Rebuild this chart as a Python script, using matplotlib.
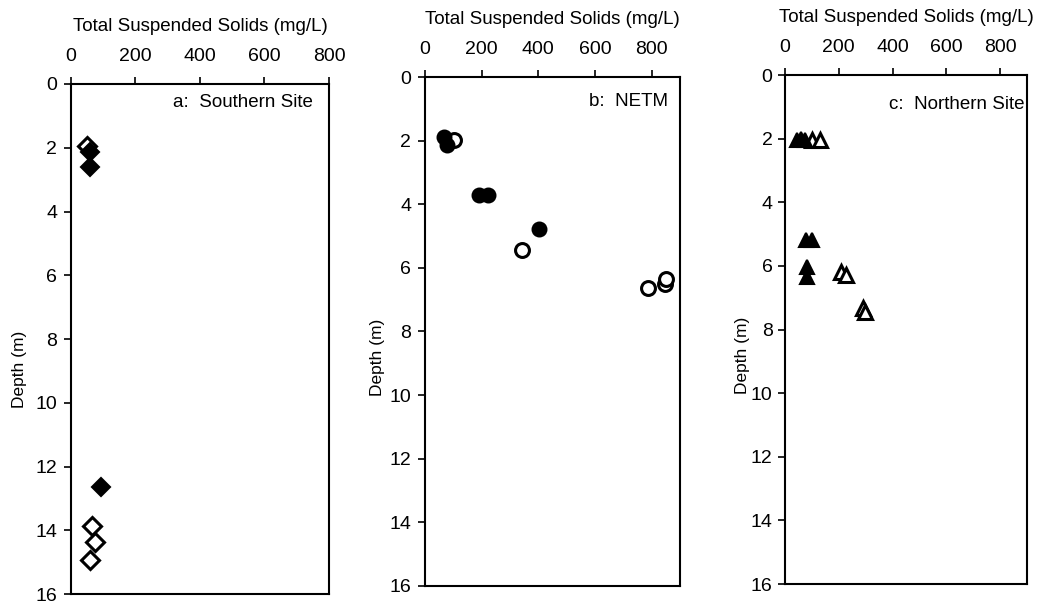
import matplotlib
matplotlib.use("Agg")
import matplotlib.pyplot as plt

plt.rcParams['font.family'] = ['Liberation Sans', 'DejaVu Sans']

# Panel a: Southern Site (diamonds)
a_fill_tss = [59, 59, 92]
a_fill_depth = [2.12, 2.6, 12.65]
a_open_tss = [49, 66, 74, 58]
a_open_depth = [1.95, 13.88, 14.38, 14.92]

# Panel b: NETM (circles)
b_fill_tss = [68, 78, 190, 224, 403]
b_fill_depth = [1.88, 2.15, 3.71, 3.71, 4.78]
b_open_tss = [104, 342, 788, 848, 850]
b_open_depth = [1.98, 5.45, 6.62, 6.52, 6.36]

# Panel c: Northern Site (triangles)
c_fill_tss = [45, 60, 76, 78, 100, 82, 82]
c_fill_depth = [2.04, 2.02, 2.05, 5.2, 5.18, 6.05, 6.35]
c_open_tss = [100, 130, 210, 228, 290, 297]
c_open_depth = [2.05, 2.05, 6.2, 6.3, 7.32, 7.45]

x_ticks = [0, 200, 400, 600, 800]
y_ticks = [0, 2, 4, 6, 8, 10, 12, 14, 16]

fig = plt.figure(figsize=(10.42, 6.03), dpi=100)

panels = [
    dict(rect=[0.0681, 0.0149, 0.2476, 0.8458], xmax=800, marker='D', ms=9.5,
         fill=(a_fill_tss, a_fill_depth), open_=(a_open_tss, a_open_depth),
         label='a:  Southern Site', ylx=-0.17, yly=0.44, tx=0.938, ty=0.963,
         ypad=5),
    dict(rect=[0.4079, 0.0282, 0.2447, 0.8441], xmax=900, marker='o', ms=10,
         fill=(b_fill_tss, b_fill_depth), open_=(b_open_tss, b_open_depth),
         label='b:  NETM', ylx=-0.157, yly=0.45, tx=0.953, ty=0.951,
         ypad=5),
    dict(rect=[0.7534, 0.0315, 0.2322, 0.8441], xmax=900, marker='^', ms=10.5,
         fill=(c_fill_tss, c_fill_depth), open_=(c_open_tss, c_open_depth),
         label='c:  Northern Site', ylx=-0.145, yly=0.45, tx=0.988, ty=0.943,
         ypad=4),
]

for p in panels:
    ax = fig.add_axes(p['rect'])
    ax.set_xlim(0, p['xmax'])
    ax.set_ylim(16, 0)
    ax.xaxis.tick_top()
    ax.xaxis.set_label_position('top')
    ax.set_xticks(x_ticks)
    ax.set_yticks(y_ticks)
    ax.tick_params(axis='both', direction='out', length=5, width=1.2,
                   labelsize=14, colors='black')
    ax.tick_params(axis='x', pad=9)
    ax.tick_params(axis='y', pad=p['ypad'])
    for s in ax.spines.values():
        s.set_linewidth(1.5)
    ax.set_xlabel('Total Suspended Solids (mg/L)', fontsize=13.5, labelpad=12)
    ax.set_ylabel('Depth (m)', fontsize=12.5)
    ax.yaxis.set_label_coords(p['ylx'], p['yly'])
    ox, oy = p['open_']
    fx, fy = p['fill']
    ax.plot(ox, oy, linestyle='none', marker=p['marker'], ms=p['ms'],
            mfc='white', mec='black', mew=2.2)
    ax.plot(fx, fy, linestyle='none', marker=p['marker'], ms=p['ms'],
            mfc='black', mec='black', mew=1.5)
    ax.text(p['tx'], p['ty'], p['label'], transform=ax.transAxes, ha='right',
            va='center', fontsize=13.5)

fig.savefig('out.png', dpi=100)
